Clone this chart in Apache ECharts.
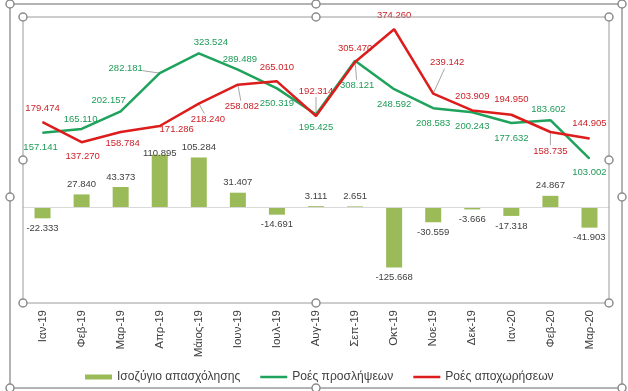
<!DOCTYPE html>
<html>
<head>
<meta charset="utf-8">
<script src="https://cdn.jsdelivr.net/npm/echarts@6/dist/echarts.min.js"></script>
<style>
html,body{margin:0;padding:0;background:#fff;}
#c{width:628px;height:391px;}
</style>
</head>
<body>
<div id="c"></div>
<script>
const categories = ['Ιαν-19','Φεβ-19','Μαρ-19','Απρ-19','Μάιος-19','Ιουν-19','Ιουλ-19','Αυγ-19','Σεπ-19','Οκτ-19','Νοε-19','Δεκ-19','Ιαν-20','Φεβ-20','Μαρ-20'];
const balance = [-22.333, 27.840, 43.373, 110.895, 105.284, 31.407, -14.691, 3.111, 2.651, -125.668, -30.559, -3.666, -17.318, 24.867, -41.903];
const hires = [157.141, 165.110, 202.157, 282.181, 323.524, 289.489, 250.319, 195.425, 308.121, 248.592, 208.583, 200.243, 177.632, 183.602, 103.002];
const exits = [179.474, 137.270, 158.784, 171.286, 218.240, 258.082, 265.010, 192.314, 305.470, 374.260, 239.142, 203.909, 194.950, 158.735, 144.905];
const seriesNames = ['Ισοζύγιο απασχόλησης', 'Ροές προσλήψεων', 'Ροές αποχωρήσεων'];

// label placement (pixel offsets of label centre from the point) and leader-line flag
const hiresLabelPos = [[-2,15,0],[-1,-10,0],[-12,-11,0],[-34,-5,1],[12,-11,0],[2,-10,0],[0,15,0],[0,13,0],[2,25,1],[0,15,0],[0,15,0],[0,14,0],[0,15,0],[-2,-11,0],[0,14,0]];
const exitsLabelPos = [[0,-14,0],[1,14,0],[2,11,0],[17,3,0],[9,16,1],[4,22,1],[0,-14,0],[0,-25,1],[0,-14,0],[0,-14,0],[14,-31,1],[0,-14,0],[0,-15,0],[0,19,1],[0,-15,0]];

const FONT = "'Liberation Sans', Arial, sans-serif";
const fmt = v => v.toFixed(3);
const GREEN = '#1fa35c', RED = '#dd1c1c', BAR = '#9bbb59';

function lineData(vals, pos) {
  return vals.map((v, i) => ({ value: v, label: { offset: [pos[i][0], pos[i][1]] } }));
}
function leaderData(vals, pos) {
  const out = [];
  vals.forEach((v, i) => { if (pos[i][2]) out.push([i, v, pos[i][0], pos[i][1]]); });
  return out;
}
function leaderRender(params, api) {
  const p = api.coord([api.value(0), api.value(1)]);
  const dx = api.value(2), dy = api.value(3);
  const hw = 17, hh = 6;
  let t = Math.min(dx !== 0 ? hw / Math.abs(dx) : Infinity, dy !== 0 ? hh / Math.abs(dy) : Infinity);
  t = Math.min(t, 1);
  return {
    type: 'line',
    shape: { x1: p[0], y1: p[1], x2: p[0] + dx * (1 - t), y2: p[1] + dy * (1 - t) },
    style: { stroke: '#a6a6a6', lineWidth: 1 },
    z2: 0
  };
}

const handle = (x, y) => ({ type: 'circle', shape: { cx: x, cy: y, r: 4 }, style: { fill: '#fff', stroke: '#8c8c8c', lineWidth: 1.5 }, z: 100 });
const graphics = [
  { type: 'rect', shape: { x: 10, y: 4, width: 612, height: 384 }, style: { fill: 'none', stroke: '#9a9a9a', lineWidth: 1.5 }, z: 99 },
  { type: 'rect', shape: { x: 23, y: 17, width: 586, height: 286 }, style: { fill: 'none', stroke: '#9a9a9a', lineWidth: 1 }, z: 99 },
  handle(10, 4), handle(316, 4), handle(622, 4), handle(10, 197), handle(622, 197), handle(10, 388), handle(316, 388), handle(622, 388),
  handle(23, 17), handle(316, 17), handle(609, 17), handle(23, 160), handle(609, 160), handle(23, 303), handle(316, 303), handle(609, 303)
];

const chart = echarts.init(document.getElementById('c'), null, { renderer: 'canvas' });
chart.setOption({
  animation: false,
  backgroundColor: '#fff',
  textStyle: { fontFamily: FONT },
  grid: { left: 23, right: 19, top: 17, bottom: 88, containLabel: false },
  xAxis: {
    type: 'category', data: categories, boundaryGap: true,
    axisLine: { show: false }, axisTick: { show: false },
    axisLabel: { rotate: 90, margin: 7, fontSize: 11.5, color: '#404040', fontFamily: FONT, interval: 0 }
  },
  yAxis: { type: 'value', min: -200, max: 400, interval: 200, show: false, splitLine: { show: false } },
  legend: {
    data: [
      { name: seriesNames[0], icon: 'rect' },
      { name: seriesNames[1], icon: 'path://M0,0H28V2.6H0Z' },
      { name: seriesNames[2], icon: 'path://M0,0H28V2.6H0Z' }
    ],
    left: 80, top: 366, itemWidth: 27, itemHeight: 5, itemGap: 20,
    textStyle: { fontSize: 12.1, color: '#404040', fontFamily: FONT }
  },
  graphic: graphics,
  series: [
    {
      name: seriesNames[0], type: 'bar', barWidth: 16,
      itemStyle: { color: BAR },
      data: balance.map((v, i) => ({ value: v, label: { position: v < 0 ? 'bottom' : 'top', distance: i === 3 ? -4 : 5 } })),
      label: { show: true, fontSize: 9.5, color: '#404040', formatter: p => fmt(p.value) },
      markLine: { silent: true, symbol: 'none', label: { show: false }, lineStyle: { color: '#d9d9d9', type: 'solid', width: 1 }, data: [{ yAxis: 0 }] },
      z: 2
    },
    {
      name: seriesNames[1], type: 'line', data: lineData(hires, hiresLabelPos),
      symbol: 'circle', symbolSize: 1, itemStyle: { color: GREEN },
      lineStyle: { color: GREEN, width: 2.5 },
      label: { show: true, position: 'inside', fontSize: 9.5, color: '#1e9b57', formatter: p => fmt(p.value) },
      z: 3
    },
    {
      name: seriesNames[2], type: 'line', data: lineData(exits, exitsLabelPos),
      symbol: 'circle', symbolSize: 1, itemStyle: { color: RED },
      lineStyle: { color: RED, width: 2.5 },
      label: { show: true, position: 'inside', fontSize: 9.5, color: '#cc1f26', formatter: p => fmt(p.value) },
      z: 4
    },
    { type: 'custom', name: 'leadG', renderItem: leaderRender, data: leaderData(hires, hiresLabelPos), encode: { x: 0, y: 1 }, silent: true, z: 2 },
    { type: 'custom', name: 'leadR', renderItem: leaderRender, data: leaderData(exits, exitsLabelPos), encode: { x: 0, y: 1 }, silent: true, z: 2 }
  ]
});
</script>
</body>
</html>
